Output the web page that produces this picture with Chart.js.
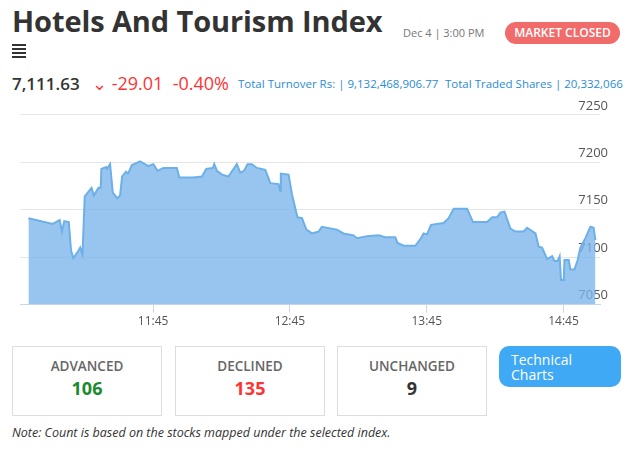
<!DOCTYPE html>
<html><head><meta charset="utf-8">
<script src="https://cdn.jsdelivr.net/npm/chart.js@4"></script>
<style>
body{margin:0;width:637px;height:450px;background:#fff;font-family:"Open Sans",sans-serif;position:relative;overflow:hidden;color:#333}
.abs{position:absolute;white-space:nowrap}
#title{left:12px;top:1px;font-size:29px;font-weight:700;color:#333;letter-spacing:-0.1px}
#date{left:403px;top:25px;font-size:11px;color:#777}
#closed{left:505px;top:22px;width:115px;height:22px;line-height:22px;border-radius:11px;background:#f26b6b;color:#fff;font-size:12px;font-weight:600;text-align:center}
#ham{left:12px;top:44px;width:14px}
#ham div{height:2px;background:#333;margin-bottom:2px}
#price{left:12px;top:72px;font-size:17px;font-weight:600;color:#333}
#chg{left:92px;top:71px;font-size:18px;color:#f33;font-weight:500}
#turn{left:238px;top:76px;font-size:11.5px;color:#2a8bd6}
#shares{left:445px;top:76px;font-size:11.5px;color:#2a8bd6}
#wrap{left:20px;top:99px;width:592px;height:232px}
.box{top:346px;width:150px;height:70px;border:1px solid #ddd;box-sizing:border-box;text-align:center}
.box .l{font-size:13.5px;font-weight:600;color:#666;margin-top:10px}
.box .v{font-size:18px;font-weight:700;margin-top:1px}
#tech{left:499px;top:346px;width:122px;height:41px;background:#3fa9f5;border-radius:10px;color:#fff;font-size:14px;line-height:15px;box-sizing:border-box;padding:6px 0 0 12px}
#note{left:12px;top:424px;font-size:12.5px;font-style:italic;color:#333}
</style></head><body>
<div class="abs" id="title">Hotels And Tourism Index</div>
<div class="abs" id="date">Dec 4 | 3:00 PM</div>
<div class="abs" id="closed">MARKET CLOSED</div>
<div class="abs" id="ham"><div></div><div></div><div></div><div></div></div>
<div class="abs" id="price">7,111.63</div>
<div class="abs" id="chg">&#8964; -29.01 &nbsp;-0.40%</div>
<div class="abs" id="turn">Total Turnover Rs: | 9,132,468,906.77</div>
<div class="abs" id="shares">Total Traded Shares | 20,332,066</div>
<div class="abs" id="wrap"><canvas id="c"></canvas></div>
<div class="abs box" style="left:12px"><div class="l">ADVANCED</div><div class="v" style="color:#1a8a2e">106</div></div>
<div class="abs box" style="left:175px"><div class="l">DECLINED</div><div class="v" style="color:#f33">135</div></div>
<div class="abs box" style="left:337px"><div class="l">UNCHANGED</div><div class="v" style="color:#333">9</div></div>
<div class="abs" id="tech">Technical<br>Charts</div>
<div class="abs" id="note">Note: Count is based on the stocks mapped under the selected index.</div>
<script>
// minute of day (10:50 = 650) and index value
const times = [650.3,661,664,665,666,668,669,670,672,673,674,675,677,678,679,681,682,682.3,684.4,684.8,686.1,687.3,689.3,690.5,691.4,693.1,694,695.7,699.3,702.9,705.1,706.9,709.5,715.4,716.5,722.7,726.4,728.3,731.2,731.8,733,735.2,738,741.7,743.2,744.9,746.4,748.3,750.5,754.2,756.4,760,760.7,761,764.4,765.9,768.3,770.3,772.2,774.7,777.6,779,785.6,788.5,792.9,794.4,798.8,803.9,806.8,811.2,812.2,814.9,820,822.5,823.6,825.1,826.9,832.4,834.6,836.8,842.7,845.3,851.5,853.7,855.9,857.3,859.1,861.7,863.9,867.5,869,872.7,874.1,875.6,877.8,880,881,882.4,883.3,883.9,885.1,885.4,887.3,888,889.8,891.2,892.4,894.6,896.8,898.2,899];
const values = [7141,7135,7139,7127,7138,7137,7107,7099,7106,7110,7103,7164,7170,7173,7165,7173,7173,7193,7195,7193,7198,7168,7162,7165,7185,7190,7188,7197,7201,7196,7198,7191,7194,7194,7184,7184,7185,7193,7194,7198,7191,7187,7185,7198,7189,7191,7198,7198,7194,7192,7178,7177,7170,7188,7187,7166,7142,7141,7129,7125,7127,7132,7129,7125,7123,7120,7122,7123,7121,7121,7115,7112,7112,7120,7125,7124,7134,7136,7141,7151,7151,7137,7137,7142,7142,7147,7148,7130,7127,7127,7131,7125,7111,7110,7098,7101,7096,7096,7101,7076,7076,7097,7097,7087,7087,7097,7110,7120,7132,7131,7118];
const xTicks = [705,765,825,885];
const xTickLabels = ['11:45','12:45','13:45','14:45'];
const yTicks = [7050,7100,7150,7200,7250];

new Chart(document.getElementById('c'), {
  type: 'line',
  data: {
    datasets: [{
      data: times.map((t, i) => ({x: t, y: values[i]})),
      borderColor: '#6db0e8',
      backgroundColor: 'rgba(122,181,234,0.78)',
      borderWidth: 2,
      fill: 'start',
      pointRadius: 0,
      tension: 0
    }]
  },
  options: {
    responsive: true,
    maintainAspectRatio: false,
    animation: false,
    layout: {padding: {left: 0, right: 12, top: 15}},
    plugins: {legend: {display: false}, tooltip: {enabled: false}},
    scales: {
      x: {
        type: 'linear', min: 646.6, max: 901,
        afterBuildTicks: s => { s.ticks = xTicks.map(v => ({value: v})); },
        ticks: {color: '#555', font: {family: 'Open Sans', size: 12}, padding: 2,
          callback: v => xTickLabels[xTicks.indexOf(v)]},
        grid: {display: true, drawOnChartArea: false, color: '#c8d6ee', tickLength: 8},
        border: {color: '#ccd6eb'}
      },
      y: {
        position: 'right', min: 7050, max: 7250,
        afterBuildTicks: s => { s.ticks = yTicks.map(v => ({value: v})); },
        afterFit: s => { s.width = 0; },
        ticks: {mirror: true, labelOffset: -9, padding: 8, color: '#555', font: {family: 'Open Sans', size: 13},
          callback: v => String(v)},
        grid: {color: '#e6e6e6', drawTicks: false},
        border: {display: false}
      }
    }
  }
});
</script>
</body></html>
